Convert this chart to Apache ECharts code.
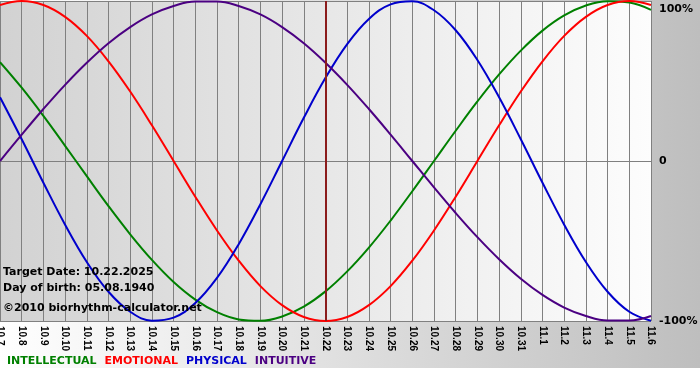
<!DOCTYPE html>
<html>
<head>
<meta charset="utf-8">
<script src="https://cdn.jsdelivr.net/npm/echarts@6/dist/echarts.min.js"></script>
<style>html,body{margin:0;padding:0;background:#fff}#c{width:700px;height:380px}</style>
</head>
<body>
<div id="c"></div>
<script>
var categories = ['10.7','10.8','10.9','10.10','10.11','10.12','10.13','10.14','10.15','10.16','10.17','10.18','10.19','10.20','10.21','10.22','10.23','10.24','10.25','10.26','10.27','10.28','10.29','10.30','10.31','11.1','11.2','11.3','11.4','11.5','11.6'];
var intellectual = [0.618,0.458,0.282,0.095,-0.095,-0.282,-0.458,-0.618,-0.756,-0.866,-0.945,-0.990,-0.999,-0.972,-0.910,-0.815,-0.690,-0.541,-0.372,-0.189,0,0.189,0.372,0.541,0.690,0.815,0.910,0.972,0.999,0.990,0.945];
var emotional = [0.975,1,0.975,0.901,0.782,0.623,0.434,0.223,0,-0.223,-0.434,-0.623,-0.782,-0.901,-0.975,-1,-0.975,-0.901,-0.782,-0.623,-0.434,-0.223,0,0.223,0.434,0.623,0.782,0.901,0.975,1,0.975];
var physical = [0.398,0.136,-0.136,-0.398,-0.631,-0.817,-0.942,-0.998,-0.979,-0.888,-0.731,-0.520,-0.270,0,0.270,0.520,0.731,0.888,0.979,0.998,0.942,0.817,0.631,0.398,0.136,-0.136,-0.398,-0.631,-0.817,-0.942,-0.998];
var intuitive = [0,0.165,0.325,0.476,0.614,0.736,0.837,0.916,0.969,0.997,0.997,0.969,0.916,0.837,0.736,0.614,0.476,0.325,0.165,0,-0.165,-0.325,-0.476,-0.614,-0.736,-0.837,-0.916,-0.969,-0.997,-0.997,-0.969];
var yTickLabels = ['-100%','0','100%'];
var targetDay = '10.22';
var infoLines = ['Target Date: 10.22.2025','Day of birth: 05.08.1940','\u00A92010 biorhythm-calculator.net'];
var seriesNames = ['INTELLECTUAL','EMOTIONAL','PHYSICAL','INTUITIVE'];
var seriesColors = ['#008000','#ff0000','#0000cc','#4b0082'];
var legendColors = ['#008000','#ff0000','#0000cc','#4b0082'];

var chart = echarts.init(document.getElementById('c'), null, {renderer:'canvas'});
var font = 'DejaVu Sans';
var dataSets = [intellectual, emotional, physical, intuitive];
var series = dataSets.map(function(d, i){
  var s = {
    name: seriesNames[i], type:'line', data:d, smooth:0.4, symbol:'none',
    lineStyle:{color:seriesColors[i], width:2}, itemStyle:{color:seriesColors[i]},
    animation:false, z:3
  };
  if (i === 0) {
    s.markLine = {
      silent:true, symbol:['none','none'], label:{show:false},
      lineStyle:{color:'#8b1c1c', width:2, type:'solid'},
      data:[{xAxis:targetDay}], animation:false
    };
  }
  return s;
});
chart.setOption({
  backgroundColor:'#ffffff',
  animation:false,
  graphic:[
    {type:'rect', z:-10, shape:{x:0,y:0,width:700,height:368},
     style:{fill:{type:'linear',x:0,y:0,x2:1,y2:0,colorStops:[{offset:0,color:'#ffffff'},{offset:1,color:'#bebebe'}]}}},
    {type:'text', left:3, top:267, z:10, style:{text:infoLines[0], font:'bold 11px "DejaVu Sans"', fill:'#000'}},
    {type:'text', left:3, top:283, z:10, style:{text:infoLines[1], font:'bold 11px "DejaVu Sans"', fill:'#000'}},
    {type:'text', left:3, top:303, z:10, style:{text:infoLines[2], font:'bold 11px "DejaVu Sans"', fill:'#000'}}
  ],
  grid:{left:0, right:49, top:1, bottom:59, show:true, borderWidth:0, containLabel:false, outerBoundsMode:'none',
    backgroundColor:{type:'linear',x:0,y:0,x2:1,y2:0,colorStops:[{offset:0,color:'#d2d2d2'},{offset:1,color:'#fdfdfd'}]}},
  legend:{
    left:2, top:356, icon:'none', itemWidth:0, itemHeight:0, itemGap:3, padding:0,
    selectedMode:false,
    textStyle:{fontFamily:font, fontWeight:'bold', fontSize:11},
    data: seriesNames.map(function(n,i){return {name:n, textStyle:{color:legendColors[i]}};})
  },
  xAxis:{
    type:'category', data:categories, boundaryGap:false,
    axisLine:{show:true, lineStyle:{color:'#808080', width:1}},
    axisTick:{show:true, length:3, interval:0, lineStyle:{color:'#808080'}},
    splitLine:{show:true, interval:0, lineStyle:{color:'#808080', width:1}},
    axisLabel:{interval:0, rotate:-90, margin:5, color:'#000', fontFamily:'Liberation Sans', fontSize:10, fontWeight:'bold', showMinLabel:true, showMaxLabel:true, hideOverlap:false}
  },
  yAxis:{
    type:'value', position:'right', min:-1, max:1, interval:1,
    axisLine:{show:false}, axisTick:{show:false},
    splitLine:{show:true, lineStyle:{color:'#808080', width:1}},
    axisLabel:{margin:8, color:'#000', fontFamily:font, fontWeight:'bold', fontSize:11,
      verticalAlignMaxLabel:'top',
      formatter:function(v){ var t = yTickLabels[Math.round(v)+1]; return v === 1 ? '{t|' + t + '}' : t; },
      rich:{t:{fontFamily:font, fontWeight:'bold', fontSize:11, color:'#000', padding:[3,0,0,0]}}}
  },
  series: series
});
</script>
</body>
</html>
